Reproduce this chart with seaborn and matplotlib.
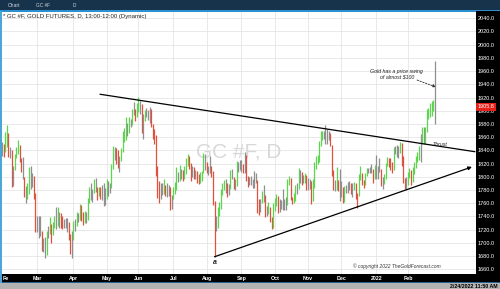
import numpy as np
import pandas as pd
import matplotlib
matplotlib.use("Agg")
import matplotlib.pyplot as plt
from matplotlib.patches import Rectangle
import seaborn as sns

# ---------------- data: daily bars (high, low, close) ----------------
bars_feb21 = [(1852,1832,1844),(1850,1830,1842),(1868,1838,1850),(1878,1845,1863),(1866,1830,1833),
              (1845,1829,1835),(1840,1785,1791),(1817,1786,1813),(1835,1810,1831),(1845,1828,1838),
              (1855,1834,1842),(1848,1822,1827),(1828,1807,1823),(1830,1796,1799),(1800,1769,1775),
              (1786,1761,1775),(1790,1767,1777),(1815,1774,1808),(1817,1782,1805),(1806,1784,1797),
              (1801,1766,1775),(1775,1717,1728)]
bars_mar21 = [(1741,1717,1723),(1740,1707,1733),(1740,1711,1715),(1718,1688,1698),(1707,1686,1700),
              (1709,1677,1683),(1718,1681,1716),(1726,1708,1716),(1739,1714,1722),(1729,1700,1719),
              (1732,1712,1729),(1740,1722,1731),(1754,1721,1727),(1755,1726,1734),(1746,1723,1741),
              (1745,1722,1738),(1741,1721,1727),(1736,1723,1733),(1737,1722,1726),(1737,1717,1732),
              (1731,1705,1712),(1713,1683,1685),(1718,1677,1715)]
bars_apr21 = [(1733,1705,1728),(1736,1718,1728),(1746,1725,1742),(1745,1731,1737),(1759,1735,1756),
              (1758,1733,1743),(1746,1727,1732),(1748,1730,1746),(1747,1730,1736),(1768,1735,1764),
              (1785,1760,1777),(1790,1765,1770),(1781,1762,1778),(1797,1775,1793),(1798,1777,1782),
              (1784,1765,1777),(1785,1771,1780),(1784,1766,1778),(1788,1765,1773),(1790,1756,1768),
              (1783,1758,1768)]
bars_may21 = [(1797,1767,1792),(1794,1771,1779),(1790,1775,1784),(1820,1783,1815),(1846,1812,1832),
              (1845,1826,1837),(1844,1820,1836),(1840,1813,1823),(1832,1808,1826),(1844,1824,1838),
              (1869,1838,1867),(1874,1853,1868),(1891,1856,1869),(1882,1862,1877),(1890,1866,1881),
              (1888,1875,1883),(1902,1879,1898),(1913,1893,1897),(1902,1884,1896),(1911,1890,1903)]
bars_jun21 = [(1921,1898,1905),(1915,1895,1909),(1910,1866,1873),(1895,1857,1892),(1901,1884,1899),
              (1904,1890,1894),(1901,1886,1896),(1906,1882,1898),(1902,1875,1879),(1880,1858,1866),
              (1872,1850,1857),(1863,1802,1811),(1816,1768,1774),(1793,1761,1769),(1790,1766,1782),
              (1791,1772,1778),(1797,1774,1779),(1787,1771,1776),(1790,1770,1781),(1787,1771,1780),
              (1784,1750,1761),(1772,1752,1770)]
bars_jul21 = [(1785,1766,1777),(1792,1774,1783),(1815,1780,1797),(1808,1792,1802),(1818,1794,1803),
              (1812,1796,1808),(1810,1793,1806),(1816,1796,1810),(1829,1805,1825),(1834,1816,1828),
              (1831,1812,1815),(1821,1794,1813),(1817,1800,1811),(1815,1796,1803),(1810,1796,1806),
              (1809,1790,1802),(1805,1789,1797),(1807,1791,1800),(1809,1794,1806),(1836,1806,1832),
              (1834,1811,1817)]
bars_aug21 = [(1823,1806,1813),(1817,1803,1814),(1832,1806,1812),(1817,1800,1806),(1809,1757,1763),
              (1764,1679,1729),(1740,1718,1732),(1755,1723,1752),(1762,1741,1753),(1782,1751,1779),
              (1790,1772,1787),(1795,1780,1789),(1796,1776,1788),(1790,1770,1781),(1789,1772,1784),
              (1810,1781,1806),(1812,1797,1802),(1800,1781,1791),(1797,1780,1792),(1824,1786,1819),
              (1823,1808,1818),(1825,1810,1818)]
bars_sep21 = [(1825,1807,1815),(1820,1806,1810),(1837,1806,1833),(1833,1793,1797),(1802,1785,1794),
              (1800,1787,1795),(1802,1787,1792),(1797,1783,1794),(1809,1783,1806),(1806,1790,1794),
              (1795,1745,1756),(1767,1742,1751),(1767,1747,1764),(1778,1760,1775),(1788,1762,1768),
              (1772,1739,1745),(1756,1741,1751),(1762,1744,1752),(1754,1731,1737),(1739,1721,1726),
              (1761,1723,1757)]
bars_oct21 = [(1768,1749,1759),(1774,1756,1767),(1771,1745,1760),(1766,1746,1763),(1765,1752,1759),
              (1781,1750,1757),(1766,1750,1755),(1770,1750,1760),(1796,1757,1793),(1801,1787,1797),
              (1798,1765,1768),(1770,1759,1765),(1775,1760,1770),(1787,1764,1782),(1790,1774,1781),
              (1814,1781,1796),(1810,1791,1806),(1808,1788,1793),(1803,1790,1797),(1806,1791,1802),
              (1803,1780,1783)]
bars_nov21 = [(1798,1780,1794),(1796,1781,1788),(1793,1759,1769),(1796,1764,1792),(1822,1783,1818),
              (1831,1812,1827),(1833,1820,1830),(1854,1823,1849),(1869,1846,1863),(1870,1855,1868),
              (1870,1857,1867),(1878,1850,1854),(1872,1849,1869),(1870,1855,1861),(1867,1846,1852),
              (1848,1801,1806),(1811,1780,1782),(1795,1779,1784),(1815,1780,1787),(1795,1779,1785),
              (1812,1763,1776)]
bars_dec21 = [(1793,1769,1782),(1785,1761,1762),(1786,1762,1783),(1788,1776,1780),(1792,1776,1785),
              (1794,1780,1783),(1791,1774,1777),(1790,1770,1783),(1792,1780,1787),(1790,1767,1771),
              (1776,1753,1764),(1804,1771,1798),(1816,1795,1804),(1806,1788,1794),(1795,1783,1790),
              (1806,1787,1803),(1813,1801,1811),(1814,1806,1811),(1815,1806,1811),(1820,1806,1810),
              (1812,1790,1805),(1818,1797,1815)]
bars_jan22 = [(1833,1797,1800),(1817,1796,1814),(1829,1808,1810),(1812,1786,1788),(1800,1782,1797),
              (1804,1789,1798),(1821,1797,1818),(1830,1817,1826),(1829,1815,1822),(1828,1811,1816),
              (1823,1806,1812),(1845,1810,1843),(1847,1834,1842),(1848,1830,1835),(1847,1829,1841),
              (1853,1836,1852),(1851,1816,1829),(1831,1790,1796),(1798,1781,1785),(1800,1780,1796)]
bars_feb22 = [(1808,1787,1801),(1813,1798,1807),(1811,1788,1804),(1815,1792,1807),(1823,1804,1820),
              (1831,1814,1826),(1838,1823,1834),(1846,1825,1836),(1865,1822,1842),(1875,1849,1870),
              (1875,1849,1856),(1876,1850,1872),(1903,1868,1898),(1904,1887,1899),(1911,1890,1906),
              (1915,1892,1907),(1917,1900,1910),(1976,1880,1905.8)]

month_labels = ["", "Mar", "Apr", "May", "Jun", "Jul", "Aug", "Sep", "Oct", "Nov", "Dec", "2022", "Feb"]
price_ticks = list(range(1660, 2041, 20))

# trendlines / annotations (bar index, price)
upper_line_x = [61.75, 298.3]
upper_line_y = [1925.0, 1838.0]
lower_line_x = [134.0, 296.4]
lower_line_y = [1679.0, 1815.0]
swing_arrow_x = [261.8, 273.6]
swing_arrow_y = [1946.5, 1936.0]

# ---------------- build frame ----------------
months = [bars_feb21, bars_mar21, bars_apr21, bars_may21, bars_jun21, bars_jul21, bars_aug21,
          bars_sep21, bars_oct21, bars_nov21, bars_dec21, bars_jan22, bars_feb22]
rows = []
for m, bars in enumerate(months):
    for (h, l, c) in bars:
        rows.append((m, h, l, c))
df = pd.DataFrame(rows, columns=["month", "high", "low", "close"])
df["i"] = np.arange(len(df))
month_start = df.groupby("month")["i"].min().values

GREEN, RED, GRAY = "#5cd64e", "#e0503c", "#8f8f8f"
ph, pl, pc = df["high"].shift(1), df["low"].shift(1), df["close"].shift(1)
up = (df["high"] > ph) & (df["low"] > pl) & (df["close"] > pc)
dn = (df["high"] < ph) & (df["low"] < pl) & (df["close"] < pc)
df["color"] = np.where(up, GREEN, np.where(dn, RED, GRAY))

# ---------------- figure ----------------
sns.set_style("whitegrid")
plt.rcParams["font.family"] = ["Liberation Sans", "DejaVu Sans"]

W, H = 500, 289
fig = plt.figure(figsize=(W / 100, H / 100), dpi=100)
fig.patch.set_facecolor("white")

def px_rect(x0, y0, x1, y1, color, z=-1):
    fig.add_artist(Rectangle((x0 / W, 1 - y1 / H), (x1 - x0) / W, (y1 - y0) / H,
                             transform=fig.transFigure, facecolor=color, edgecolor="none", zorder=z))

# chrome
px_rect(0, 0, 500, 11, "#17324b")
px_rect(0, 10, 500, 11.5, "#2c8fd0")
px_rect(476, 11, 500, 274, "black")
px_rect(0, 274, 500, 282, "black")
px_rect(0, 281.5, 500, 283, "#27618f")
px_rect(0, 283, 500, 289, "#b4b4b4")
px_rect(0, 11, 2, 283, "#4aa6d4")

ax = fig.add_axes([2 / W, (H - 274) / H, 474 / W, 262 / H])
ax.set_facecolor("white")
ax.set_xlim(-0.08, -0.08 + 474 / 1.585)
ax.set_ylim(1652.9, 2049.5)

ax.vlines(df["i"], df["low"], df["high"], colors=df["color"], linewidth=0.9, zorder=3)

# grid & ticks
ax.set_xticks(month_start[1:])
ax.set_xticklabels(month_labels[1:])
ax.set_yticks(price_ticks)
ax.set_yticklabels([f"{v:.1f}" for v in price_ticks])
ax.yaxis.tick_right()
ax.grid(True, color="#e5e5e5", linewidth=0.6)
for s in ax.spines.values():
    s.set_visible(False)
ax.tick_params(axis="x", colors="white", labelsize=3.8, length=0, pad=1.3)
ax.tick_params(axis="y", colors="white", labelsize=4.0, length=0, pad=1.0)
for lbl in ax.get_xticklabels():
    lbl.set_fontweight("bold")
ax.set_xlabel("")
ax.set_ylabel("")

# trendlines
sns.lineplot(x=upper_line_x, y=upper_line_y, color="black", linewidth=0.9, ax=ax, zorder=4)
ax.annotate("", xy=(lower_line_x[1], lower_line_y[1]), xytext=(lower_line_x[0], lower_line_y[0]),
            arrowprops=dict(arrowstyle="-|>", color="black", lw=0.9, mutation_scale=5,
                            shrinkA=0, shrinkB=0), zorder=4)
ax.annotate("", xy=(swing_arrow_x[1], swing_arrow_y[1]), xytext=(swing_arrow_x[0], swing_arrow_y[0]),
            arrowprops=dict(arrowstyle="-|>", color="#333333", lw=0.6, linestyle=(0, (2, 1.5)),
                            mutation_scale=4, shrinkA=0, shrinkB=0), zorder=4)

# texts
ax.text(0.5, 0.466, "GC #F, D", transform=ax.transAxes, ha="center", va="center",
        fontsize=15, color="#d8d8d8", zorder=1)
ax.text(0.002, 0.992, "* GC #F, GOLD FUTURES, D, 13:00-12:00 (Dynamic)", transform=ax.transAxes,
        ha="left", va="top", fontsize=4.3, color="#222222", zorder=5)
ax.text(249.0, 1955.0, "Gold has a price swing\nof almost $100", ha="center", va="center",
        fontsize=3.8, style="italic", color="#222222", linespacing=1.0, zorder=5)
ax.text(276.3, 1848.5, "Thrust", ha="center", va="center", fontsize=3.8, style="italic",
        color="#222222", zorder=5)
ax.text(134.5, 1670.5, "a", ha="center", va="center", fontsize=5, style="italic",
        fontweight="bold", color="#222222", zorder=5)
ax.text(0.925, 0.03, "\u00a9 copyright 2022 TheGoldForecast.com", transform=ax.transAxes,
        ha="right", va="center", fontsize=3.5, style="italic", color="#333333", zorder=5)

last = df["close"].iloc[-1]
ax.annotate(f"{last:.1f}", xy=(1.0, last), xycoords=("axes fraction", "data"),
            xytext=(1.3, 0), textcoords="offset points", ha="left", va="center",
            color="white", fontsize=4.0, annotation_clip=False, zorder=6,
            bbox=dict(boxstyle="square,pad=0.3", fc="#e8201a", ec="none"))

# header / footer text
fig.text(8 / W, 1 - 5.5 / H, "Chart", fontsize=3.6, color="#cfd8e0", va="center", ha="left")
fig.text(36 / W, 1 - 5.5 / H, "GC #F", fontsize=3.4, color="#cfd8e0", va="center", ha="left")
fig.text(73 / W, 1 - 5.5 / H, "D", fontsize=3.4, color="#cfd8e0", va="center", ha="left")
fig.text(3 / W, 1 - 278 / H, "Fe", fontsize=3.8, color="white", fontweight="bold",
         va="center", ha="left")
fig.text(498 / W, 1 - 286 / H, "2/24/2022 11:50 AM", fontsize=3.8, color="black",
         fontweight="bold", va="center", ha="right")

fig.savefig("out.png", dpi=100)
